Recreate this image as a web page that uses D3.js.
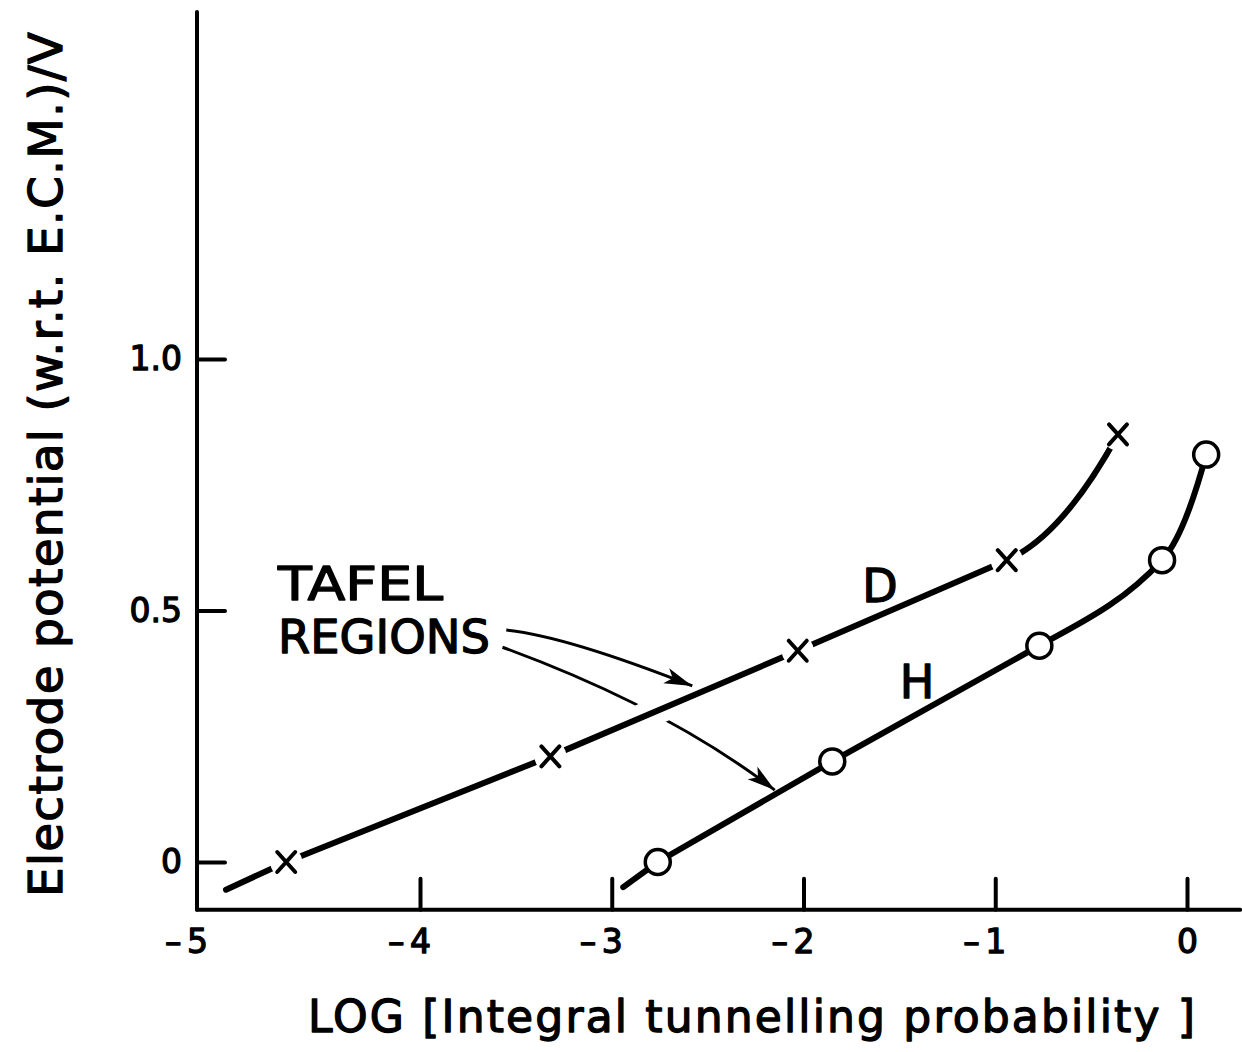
<!DOCTYPE html>
<html>
<head>
<meta charset="utf-8">
<script src="https://cdn.jsdelivr.net/npm/d3@7"></script>
<style>
  html, body { margin: 0; padding: 0; background: #fff; }
  svg { display: block; }
</style>
</head>
<body>
<script>
// Axis ticks
const xTickValues = [-5, -4, -3, -2, -1, 0];
const yTickValues = [0, 0.5, 1.0];
const yTickLabels = ["0", "0.5", "1.0"];

// D curve: log tunnelling probability vs electrode potential
const dLogP = [-4.60, -3.32, -2.03, -0.94, -0.36];
const dPotential = [0.00, 0.21, 0.42, 0.60, 0.85];
// H curve
const hLogP = [-2.76, -1.85, -0.77, -0.13, 0.10];
const hPotential = [0.00, 0.20, 0.43, 0.60, 0.81];
// Lower end of each drawn curve (below the first measured point)
const dCurveStart = [-4.87, -0.055];
const hCurveStart = [-2.94, -0.05];
// Number of leading curve vertices on the straight (Tafel) part
const dTafelCount = 5;
const hTafelCount = 4;

// "TAFEL REGIONS" pointers: start, bend control, tip (data units)
const tafelArrowUpper = [[-3.55, 0.461], [-3.24, 0.449], [-2.58, 0.35]];
const tafelArrowLower = [[-3.57, 0.427], [-2.71, 0.307], [-2.15, 0.143]];

// Visible extent of the axis lines
const xExtent = [-5, 0.277];
const yExtent = [-0.095, 1.69];

const W = 1242, H = 1052;
const FONT = "'DejaVu Sans', 'Liberation Sans', sans-serif";

const svg = d3.select("body").append("svg")
  .attr("width", W).attr("height", H)
  .style("font-family", FONT);

// Hand-ruled abscissa: the first decade is a little wider than the rest
const x = d3.scaleLinear().domain([-5, -4, 0]).range([197, 420, 1187]);
const y = d3.scaleLinear().domain([0, 1]).range([862, 359]);

// Arrowhead
const defs = svg.append("defs");
defs.append("marker")
  .attr("id", "head")
  .attr("markerUnits", "userSpaceOnUse")
  .attr("markerWidth", 32).attr("markerHeight", 18)
  .attr("refX", 28).attr("refY", 8)
  .attr("orient", "auto")
  .append("path")
  .attr("d", "M0,0 L28,8 L0,16 L7,8 Z")
  .attr("fill", "#000");

// ---- Axes ----
const axisG = svg.append("g").attr("stroke-linecap", "round");
axisG.append("line")
  .attr("x1", x(xExtent[0])).attr("x2", x(xExtent[1]))
  .attr("y1", y(yExtent[0])).attr("y2", y(yExtent[0]))
  .attr("stroke", "#000").attr("stroke-width", 4);
axisG.append("line")
  .attr("x1", x(xExtent[0])).attr("x2", x(xExtent[0]))
  .attr("y1", y(yExtent[0])).attr("y2", y(yExtent[1]))
  .attr("stroke", "#000").attr("stroke-width", 4);

const inkText = sel => sel
  .attr("fill", "#000")
  .attr("stroke", "#000")
  .attr("stroke-width", 1.3)
  .attr("stroke-linejoin", "round")
  .style("font-family", FONT);

// x ticks point up into the plot; labels show the magnitude, minus hung to the left
const xAxis = d3.axisBottom(x)
  .tickValues(xTickValues)
  .tickSize(-31)
  .tickPadding(20)
  .tickFormat(d => String(Math.abs(d)));
const gx = svg.append("g")
  .attr("transform", `translate(0,${y(yExtent[0])})`)
  .call(xAxis);
gx.select(".domain").remove();
gx.selectAll(".tick line")
  .attr("stroke", "#000").attr("stroke-width", 4)
  .attr("stroke-linecap", "round")
  .filter(d => d === xExtent[0]).remove();
gx.selectAll(".tick text")
  .call(inkText)
  .style("font-size", "33px");
gx.selectAll(".tick").filter(d => d < 0)
  .append("text")
  .call(inkText)
  .attr("x", -16)
  .attr("y", 20)
  .attr("dy", "0.71em")
  .attr("text-anchor", "end")
  .style("font-size", "33px")
  .text("–");

// y ticks point right into the plot
const yAxis = d3.axisLeft(y)
  .tickValues(yTickValues)
  .tickSize(-28)
  .tickPadding(15)
  .tickFormat((d, i) => yTickLabels[i]);
const gy = svg.append("g")
  .attr("transform", `translate(${x(xExtent[0])},0)`)
  .call(yAxis);
gy.select(".domain").remove();
gy.selectAll(".tick line")
  .attr("stroke", "#000").attr("stroke-width", 4)
  .attr("stroke-linecap", "round");
gy.selectAll(".tick text")
  .call(inkText)
  .style("font-size", "33px");

// ---- Curves ----
// Straight through the Tafel vertices, then a smooth convex cubic (Hermite)
// that leaves the straight part along its own slope.
function tafelPath(pts, nStraight) {
  const P = pts.map(d => [x(d[0]), y(d[1])]);
  const p = d3.path();
  p.moveTo(P[0][0], P[0][1]);
  for (let i = 1; i < nStraight; i++) p.lineTo(P[i][0], P[i][1]);
  const n = P.length;
  const sec = i => (P[i + 1][1] - P[i][1]) / (P[i + 1][0] - P[i][0]);
  const k = nStraight - 1;
  const m = [];
  m[k] = sec(k - 1);
  for (let i = k + 1; i < n - 1; i++) {
    const a = sec(i - 1), b = sec(i);
    m[i] = 2 * a * b / (a + b);
  }
  m[n - 1] = 2 * sec(n - 2) - m[n - 2];
  for (let i = k; i < n - 1; i++) {
    const h = (P[i + 1][0] - P[i][0]) / 3;
    p.bezierCurveTo(
      P[i][0] + h, P[i][1] + m[i] * h,
      P[i + 1][0] - h, P[i + 1][1] - m[i + 1] * h,
      P[i + 1][0], P[i + 1][1]);
  }
  return p.toString();
}
const quad = pts => {
  const p = pts.map(d => [x(d[0]), y(d[1])]);
  return `M${p[0][0]},${p[0][1]} Q${p[1][0]},${p[1][1]} ${p[2][0]},${p[2][1]}`;
};

const dPts = dLogP.map((v, i) => [v, dPotential[i]]);
const hPts = hLogP.map((v, i) => [v, hPotential[i]]);
const dPathD = tafelPath([dCurveStart, ...dPts], dTafelCount);
const hPathD = tafelPath([hCurveStart, ...hPts], hTafelCount);

// Lower pointer passes beneath the D curve
svg.append("path")
  .attr("d", quad(tafelArrowLower))
  .attr("fill", "none").attr("stroke", "#000").attr("stroke-width", 3)
  .attr("marker-end", "url(#head)");

// white halo breaks the lower pointer where it crosses D
svg.append("path")
  .attr("d", dPathD)
  .attr("fill", "none").attr("stroke", "#fff").attr("stroke-width", 27);

svg.append("path")
  .attr("d", dPathD)
  .attr("fill", "none").attr("stroke", "#000").attr("stroke-width", 6)
  .attr("stroke-linecap", "round");

svg.append("path")
  .attr("d", hPathD)
  .attr("fill", "none").attr("stroke", "#000").attr("stroke-width", 6)
  .attr("stroke-linecap", "round");

// Upper pointer ends just above the D curve
svg.append("path")
  .attr("d", quad(tafelArrowUpper))
  .attr("fill", "none").attr("stroke", "#000").attr("stroke-width", 3)
  .attr("marker-end", "url(#head)");

// D markers: crosses with a clear gap in the line around them
const dMarks = svg.append("g");
dMarks.selectAll("circle").data(dPts).join("circle")
  .attr("cx", d => x(d[0])).attr("cy", d => y(d[1]))
  .attr("r", 16).attr("fill", "#fff");
dMarks.selectAll("path").data(dPts).join("path")
  .attr("d", d => {
    const cx = x(d[0]), cy = y(d[1]), a = 9, b = 10;
    return `M${cx - a},${cy - b} L${cx + a},${cy + b} M${cx + a},${cy - b} L${cx - a},${cy + b}`;
  })
  .attr("stroke", "#000").attr("stroke-width", 4)
  .attr("stroke-linecap", "round").attr("fill", "none");

// H markers: open circles
svg.append("g").selectAll("circle").data(hPts).join("circle")
  .attr("cx", d => x(d[0])).attr("cy", d => y(d[1]))
  .attr("r", 12.5)
  .attr("fill", "#fff").attr("stroke", "#000").attr("stroke-width", 3.5);

// ---- Labels ----
const txt = svg.append("g").call(inkText);

txt.append("text").attr("x", 278).attr("y", 600)
  .attr("textLength", 165).attr("lengthAdjust", "spacingAndGlyphs")
  .style("font-size", "46px").text("TAFEL");
txt.append("text").attr("x", 278).attr("y", 653)
  .attr("textLength", 212).attr("lengthAdjust", "spacingAndGlyphs")
  .style("font-size", "46px").text("REGIONS");

txt.append("text").attr("x", 880).attr("y", 602)
  .attr("text-anchor", "middle").style("font-size", "46px").text("D");
txt.append("text").attr("x", 917).attr("y", 698)
  .attr("text-anchor", "middle").style("font-size", "46px").text("H");

// Axis titles
txt.append("text").attr("x", 308).attr("y", 1032)
  .attr("textLength", 887).attr("lengthAdjust", "spacing")
  .style("font-size", "44px")
  .text("LOG [Integral tunnelling probability ]");

txt.append("text")
  .attr("transform", "translate(62,897) rotate(-90)")
  .attr("textLength", 865).attr("lengthAdjust", "spacing")
  .style("font-size", "47px")
  .text("Electrode potential (w.r.t. E.C.M.)/V");
</script>
</body>
</html>
